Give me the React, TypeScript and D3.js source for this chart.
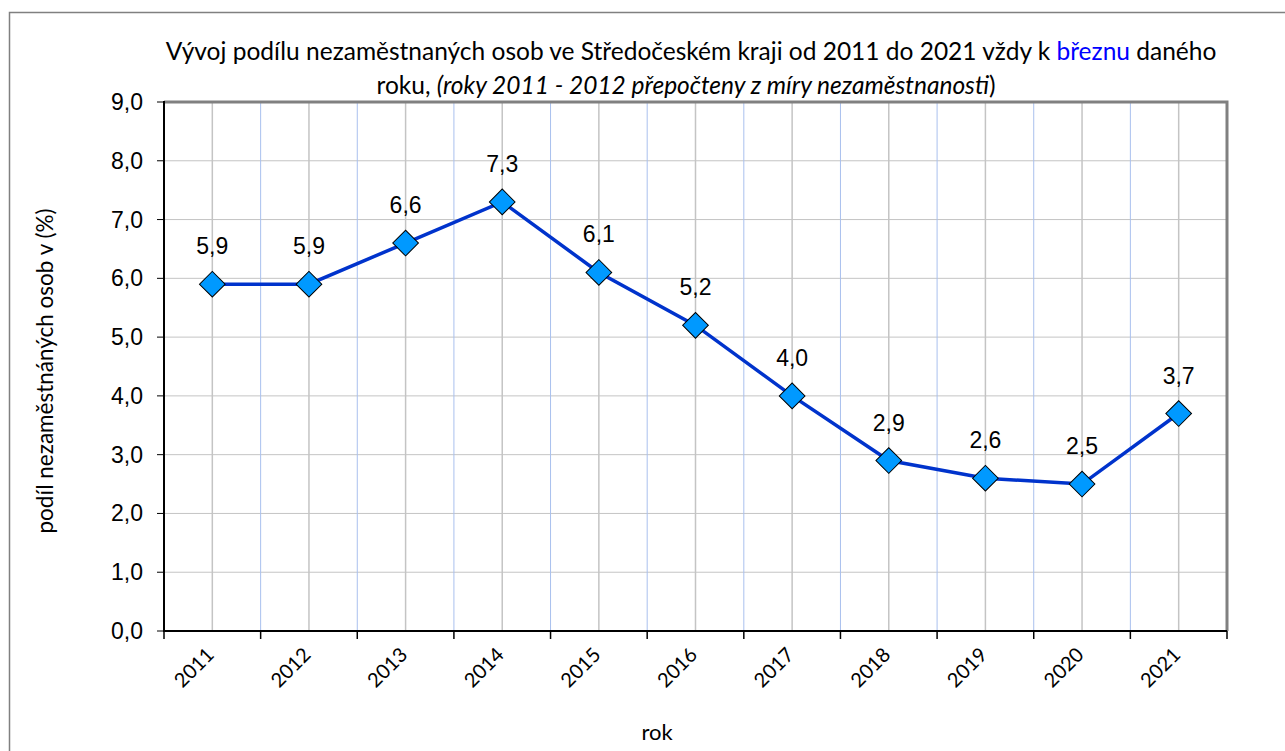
import React from "react";
import * as d3 from "d3";

const years = ["2011", "2012", "2013", "2014", "2015", "2016", "2017", "2018", "2019", "2020", "2021"];
const shares = [5.9, 5.9, 6.6, 7.3, 6.1, 5.2, 4.0, 2.9, 2.6, 2.5, 3.7];
const yTicks = [0, 1, 2, 3, 4, 5, 6, 7, 8, 9];

const W = 1285;
const H = 751;
const margin = { top: 102, right: 58, bottom: 120, left: 164 };
const titleFont = "Lato, 'Open Sans', sans-serif";
const numFont = "'Liberation Sans', Arial, sans-serif";

const fmt = (v: number) => v.toFixed(1).replace(".", ",");

const App = () => {
  const x = d3
    .scaleBand()
    .domain(years)
    .range([margin.left, W - margin.right])
    .padding(0);
  const y = d3
    .scaleLinear()
    .domain([0, 9])
    .range([631, margin.top]);

  const cx = (d: string) => (x(d) as number) + x.bandwidth() / 2;
  const pts = years.map((yr, i) => ({ yr, v: shares[i] }));
  const line = d3
    .line<{ yr: string; v: number }>()
    .x((d) => cx(d.yr))
    .y((d) => y(d.v));
  const diamond = d3.symbol(d3.symbolSquare, 330)();

  const [x0, x1] = x.range();
  const [y0, y1] = y.range();
  const boundaries = years.map((yr) => x(yr) as number).concat([x1]);

  return (
    <svg
      width={W}
      height={H}
      style={{ position: "absolute", left: 0, top: 0, background: "#fff" }}
    >
      <rect x={9.5} y={12.5} width={W + 10} height={H + 10} fill="#fff" stroke="#808080" strokeWidth={1.5} />

      {/* title */}
      <text x={691} y={60} textAnchor="middle" fontFamily={titleFont} fontSize={24.5} fill="#000">
        Vývoj podílu nezaměstnaných osob ve Středočeském kraji od 2011 do 2021 vždy k{" "}
        <tspan fill="#0000ff">březnu</tspan> daného
      </text>
      <text x={686} y={94} textAnchor="middle" fontFamily={titleFont} fontSize={24.5} fill="#000">
        roku, <tspan fontStyle="italic">(roky 2011 - 2012 přepočteny z míry nezaměstnanosti</tspan>)
      </text>

      {/* grid */}
      {yTicks.map((t) => (
        <line key={"h" + t} x1={x0} x2={x1} y1={y(t)} y2={y(t)} stroke="#c4c4c4" strokeWidth={1} />
      ))}
      {boundaries.map((b, i) => (
        <line key={"b" + i} x1={b} x2={b} y1={y1} y2={y0} stroke="#a9c0ee" strokeWidth={1} />
      ))}
      {years.map((yr) => (
        <line key={"c" + yr} x1={cx(yr)} x2={cx(yr)} y1={y1} y2={y0} stroke="#c4c4c4" strokeWidth={1.5} />
      ))}

      {/* plot border top/right */}
      <polyline
        points={`${x0},${y1} ${x1},${y1} ${x1},${y0}`}
        fill="none"
        stroke="#808080"
        strokeWidth={3}
      />

      {/* axes */}
      <line x1={x0} x2={x0} y1={y1 - 1} y2={y0 + 1} stroke="#000" strokeWidth={2} />
      <line x1={x0 - 1} x2={x1} y1={y0} y2={y0} stroke="#000" strokeWidth={2} />
      {yTicks.map((t) => (
        <g key={"yt" + t}>
          <line x1={x0 - 7} x2={x0} y1={y(t)} y2={y(t)} stroke="#000" strokeWidth={1} />
          <text x={143} y={y(t) + 8} textAnchor="end" fontFamily={numFont} fontSize={23} fill="#000">
            {fmt(t)}
          </text>
        </g>
      ))}
      {boundaries.map((b, i) => (
        <line key={"xt" + i} x1={b} x2={b} y1={y0} y2={y0 + 8} stroke="#000" strokeWidth={1.5} />
      ))}
      {years.map((yr) => (
        <text
          key={"xl" + yr}
          transform={`translate(${cx(yr) + 3},${y0 + 25}) rotate(-45)`}
          textAnchor="end"
          fontFamily={titleFont}
          fontSize={20}
          fill="#000"
        >
          {yr}
        </text>
      ))}

      {/* axis titles */}
      <text x={657} y={740} textAnchor="middle" fontFamily={titleFont} fontSize={22} fill="#000">
        rok
      </text>
      <text
        transform={`translate(53,371) rotate(-90)`}
        textAnchor="middle"
        fontFamily={titleFont}
        fontSize={22.5}
        fill="#000"
      >
        podíl nezaměstnáných osob v (%)
      </text>

      {/* series */}
      <path d={line(pts) as string} fill="none" stroke="#0033cc" strokeWidth={3.5} />
      {pts.map((p) => (
        <path
          key={"m" + p.yr}
          d={diamond as string}
          transform={`translate(${cx(p.yr)},${y(p.v)}) rotate(45)`}
          fill="#0099ff"
          stroke="#000"
          strokeWidth={1}
        />
      ))}
      {pts.map((p) => (
        <text
          key={"l" + p.yr}
          x={cx(p.yr)}
          y={y(p.v) - 30}
          textAnchor="middle"
          fontFamily={numFont}
          fontSize={23}
          fill="#000"
        >
          {fmt(p.v)}
        </text>
      ))}
    </svg>
  );
};

export default App;
